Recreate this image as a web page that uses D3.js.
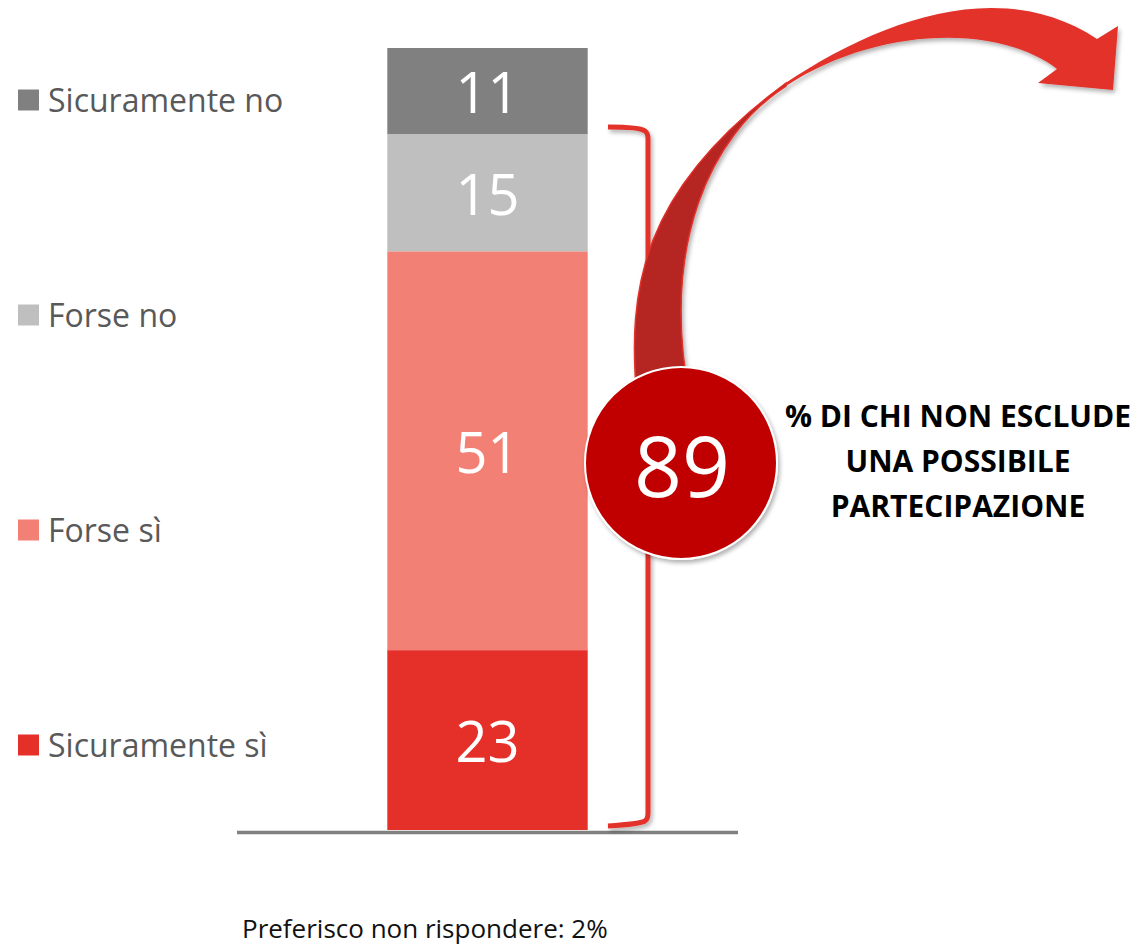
<!DOCTYPE html>
<html>
<head>
<meta charset="utf-8">
<script src="https://cdn.jsdelivr.net/npm/d3@7"></script>
<style>
  body { margin: 0; background: #fff; }
  svg { display: block; font-family: "Open Sans", sans-serif; }
</style>
</head>
<body>
<div id="chart"></div>
<script>
var width = 1143;
var height = 948;

// data, bottom to top of the stacked bar
var categories = ["Sicuramente sì", "Forse sì", "Forse no", "Sicuramente no"];
var values = [23, 51, 15, 11];
var colors = ["#e5302a", "#f28074", "#bfbfbf", "#808080"];
var legendOrder = ["Sicuramente no", "Forse no", "Forse sì", "Sicuramente sì"];
var bracketTotal = 89;
var bracketLabel = ["% DI CHI NON ESCLUDE", "UNA POSSIBILE", "PARTECIPAZIONE"];
var footNote = "Preferisco non rispondere: 2%";

var svg = d3.select("#chart")
    .append("svg")
    .attr("width", width)
    .attr("height", height);

var defs = svg.append("defs");
defs.append("filter")
    .attr("id", "shadow")
    .attr("x", "-20%").attr("y", "-20%")
    .attr("width", "140%").attr("height", "140%")
    .append("feDropShadow")
    .attr("dx", 2).attr("dy", 3)
    .attr("stdDeviation", 2)
    .attr("flood-color", "#000")
    .attr("flood-opacity", 0.3);

// scales
var x = d3.scaleBand()
    .domain(["Totale"])
    .range([237, 738])
    .paddingOuter(0.75);

var y = d3.scaleLinear()
    .domain([0, 100])
    .range([830, 48]);

var row = {};
categories.forEach(function (c, i) { row[c] = values[i]; });
var stack = d3.stack().keys(categories)([row]);

// bar segments
svg.selectAll("rect.seg")
    .data(stack)
    .enter()
    .append("rect")
    .attr("class", "seg")
    .attr("x", x("Totale"))
    .attr("width", x.bandwidth())
    .attr("y", function (d) { return y(d[0][1]); })
    .attr("height", function (d) { return y(d[0][0]) - y(d[0][1]); })
    .style("fill", function (d, i) { return colors[i]; });

svg.selectAll("text.seg")
    .data(stack)
    .enter()
    .append("text")
    .attr("class", "seg")
    .attr("x", x("Totale") + x.bandwidth() / 2)
    .attr("y", function (d) { return (y(d[0][0]) + y(d[0][1])) / 2 + 22; })
    .attr("text-anchor", "middle")
    .style("font-size", "56px")
    .style("fill", "#fff")
    .text(function (d, i) { return values[i]; });

// baseline
svg.append("line")
    .attr("x1", 237).attr("x2", 738)
    .attr("y1", y(0) + 2.5).attr("y2", y(0) + 2.5)
    .style("stroke", "#808080")
    .style("stroke-width", 3.5);

// legend
var legendY = d3.scalePoint().domain(legendOrder).range([100, 745]);
var legend = svg.selectAll("g.legend")
    .data(legendOrder)
    .enter()
    .append("g")
    .attr("class", "legend")
    .attr("transform", function (d) { return "translate(18," + legendY(d) + ")"; });

legend.append("rect")
    .attr("x", 0).attr("y", -10.5)
    .attr("width", 21).attr("height", 21)
    .style("fill", function (d) { return colors[categories.indexOf(d)]; });

legend.append("text")
    .attr("x", 30).attr("y", 12)
    .style("font-size", "32px")
    .style("fill", "#595959")
    .text(function (d) { return d; });

// bracket around the share that does not exclude participating
var bTop = y(bracketTotal) - 7;
var bBot = y(0) - 5;
svg.append("path")
    .attr("d", "M608," + bTop + " Q640," + bTop + " 645," + (bTop + 4) +
        " Q648," + (bTop + 6) + " 648," + (bTop + 12) +
        " L648," + (bBot - 12) +
        " Q648," + (bBot - 6) + " 645," + (bBot - 4) +
        " Q640," + (bBot - 1) + " 608," + (bBot + 1))
    .style("fill", "none")
    .style("stroke", "#e3312b")
    .style("stroke-width", 5)
    .attr("filter", "url(#shadow)");

// curved arrow: lower twisted ribbon and upper shaft with head
var arrow = svg.append("g").attr("filter", "url(#shadow)");
arrow.append("path")
    .attr("d", "M784,84 C880,20 1000,-25 1097,39 L1118,26 L1113,90 L1038,83 L1057,69" +
        " C1000,25 880,25 786,86 Z")
    .style("fill", "#e3312b");
arrow.append("path")
    .attr("d", "M637,400 C627,290 640,190 786,83 L786,86 C710,135 660,245 690,400 Z")
    .style("fill", "#b52621")
    .style("stroke", "#e3312b")
    .style("stroke-width", 1.5);

// circle with total
svg.append("circle")
    .attr("cx", 681).attr("cy", 463).attr("r", 96)
    .style("fill", "#c00000")
    .style("stroke", "#fff")
    .style("stroke-width", 2)
    .attr("filter", "url(#shadow)");

svg.append("text")
    .attr("x", 682).attr("y", 497)
    .attr("text-anchor", "middle")
    .style("font-size", "84px")
    .style("fill", "#fff")
    .text(bracketTotal);

svg.selectAll("text.note")
    .data(bracketLabel)
    .enter()
    .append("text")
    .attr("class", "note")
    .attr("x", 958)
    .attr("y", function (d, i) { return 427 + i * 45; })
    .attr("text-anchor", "middle")
    .style("font-size", "30px")
    .style("font-weight", "bold")
    .style("fill", "#000")
    .text(function (d) { return d; });

svg.append("text")
    .attr("x", 242).attr("y", 938)
    .style("font-size", "26px")
    .style("fill", "#111")
    .text(footNote);
</script>
</body>
</html>
